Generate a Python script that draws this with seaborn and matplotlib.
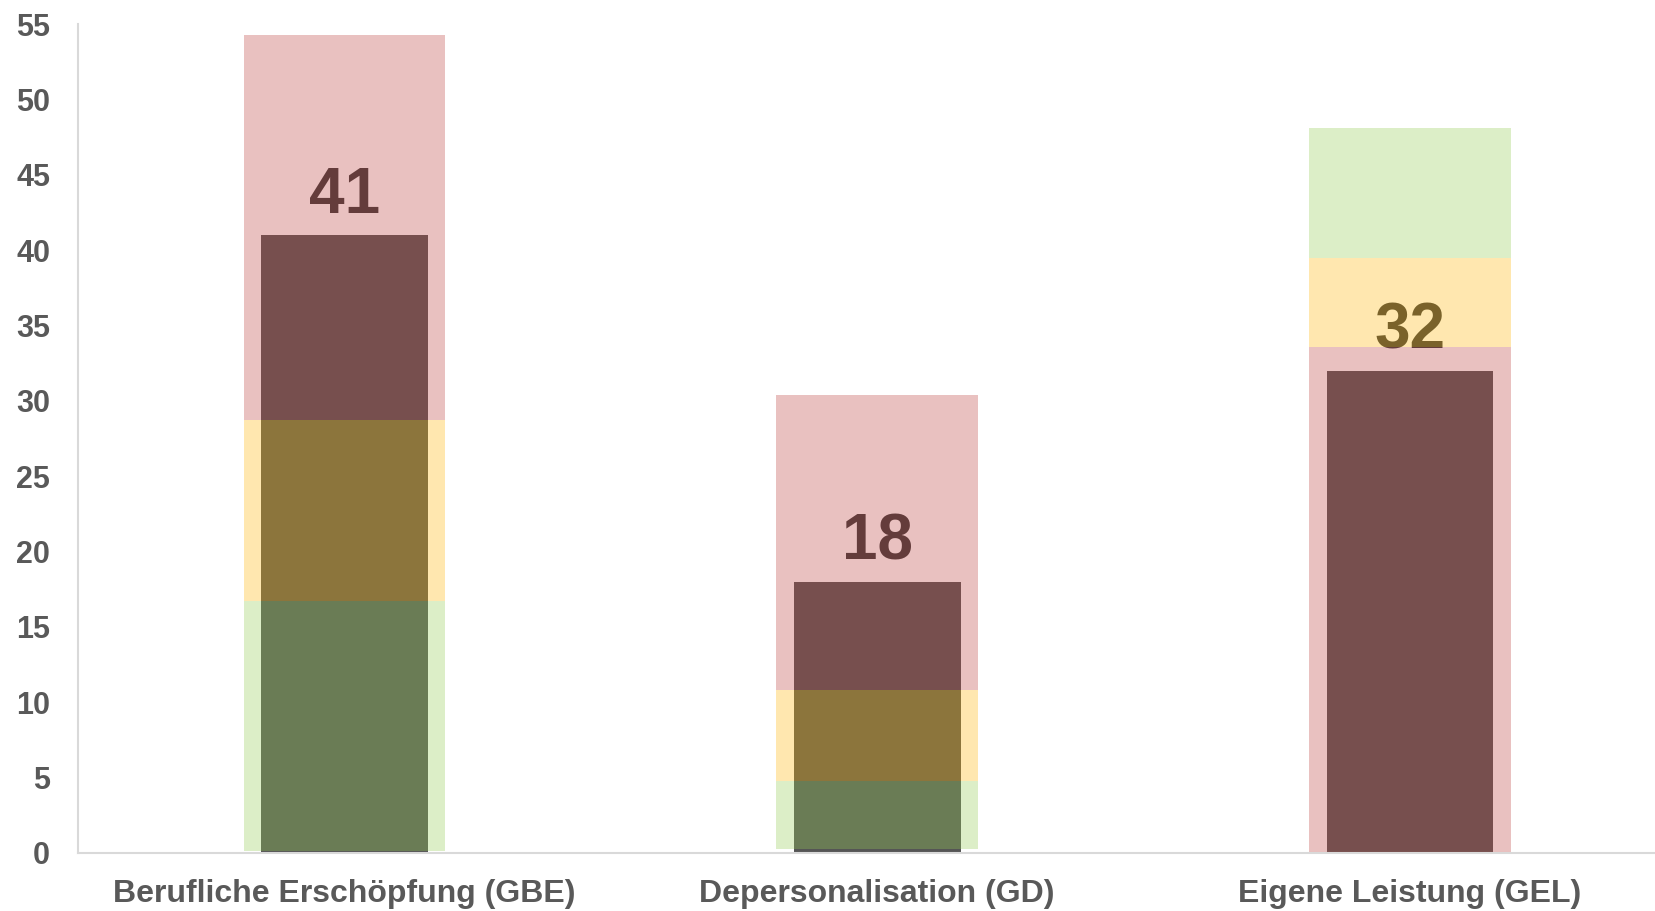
"""
plot.py
-------
Burnout score per scale, drawn as a dark bar under translucent
green / yellow / red reference bands.
"""

import numpy as np
import matplotlib
matplotlib.use("Agg")
import matplotlib.pyplot as plt
import seaborn as sns

# ── Data ───────────────────────────────────────────────────────────────────────
categories = ["Berufliche Erschöpfung (GBE)", "Depersonalisation (GD)", "Eigene Leistung (GEL)"]
scores = [41, 18, 32]

# band edges (lower / upper) per category
green_lo = [0.1, 0.27, 39.5]
green_hi = [16.7, 4.76, 48.1]
yellow_lo = [16.7, 4.76, 33.6]
yellow_hi = [28.7, 10.8, 39.5]
red_lo = [28.7, 10.8, 0.05]
red_hi = [54.3, 30.4, 33.6]

y_ticks = list(range(0, 56, 5))

# ── Style ──────────────────────────────────────────────────────────────────────
sns.set_theme(style="white")
plt.rcParams["font.family"] = ["Liberation Sans", "DejaVu Sans"]

TEXT_GREY = "#595959"
BAR_GREY = "#555555"
BAND_ALPHA = 0.324
BAND_COLORS = {"green": "#96CD55", "yellow": "#FFB80B", "red": "#BE4340"}

fig = plt.figure(figsize=(16.55, 9.11), dpi=100)
ax = fig.add_axes([78 / 1655, 1 - 853 / 911, (1655 - 78) / 1655, (853 - 24) / 911])

# dark score bars (underneath)
sns.barplot(x=categories, y=scores, color=BAR_GREY, saturation=1,
            width=0.313, linewidth=0, ax=ax, zorder=1)

x = np.arange(len(categories))

# value labels sit under the bands as well, so they pick up the tint
for xi, val in zip(x, scores):
    ax.text(xi, val + 2.6, str(val), ha="center", va="center",
            fontsize=46, fontweight="bold", color="#3A3A3A", zorder=2)

# translucent reference bands on top
for lo, hi, name in [(green_lo, green_hi, "green"),
                     (yellow_lo, yellow_hi, "yellow"),
                     (red_lo, red_hi, "red")]:
    lo = np.array(lo)
    hi = np.array(hi)
    ax.bar(x, hi - lo, bottom=lo, width=0.378, color=BAND_COLORS[name],
           alpha=BAND_ALPHA, linewidth=0, zorder=3)

ax.set_xlim(-0.5, 2.46)
ax.set_ylim(0, 55)
ax.set_yticks(y_ticks)
ax.set_xlabel("")
ax.set_ylabel("")

ax.tick_params(axis="y", length=0, pad=20, labelsize=22, labelcolor=TEXT_GREY)
ax.tick_params(axis="x", length=0, pad=19, labelsize=23, labelcolor=TEXT_GREY)
for lbl in ax.get_xticklabels() + ax.get_yticklabels():
    lbl.set_fontweight("bold")

sns.despine(ax=ax)
for side in ["left", "bottom"]:
    ax.spines[side].set_color("#D9D9D9")
    ax.spines[side].set_linewidth(1.5)

fig.savefig("out.png", dpi=100)
plt.close(fig)
